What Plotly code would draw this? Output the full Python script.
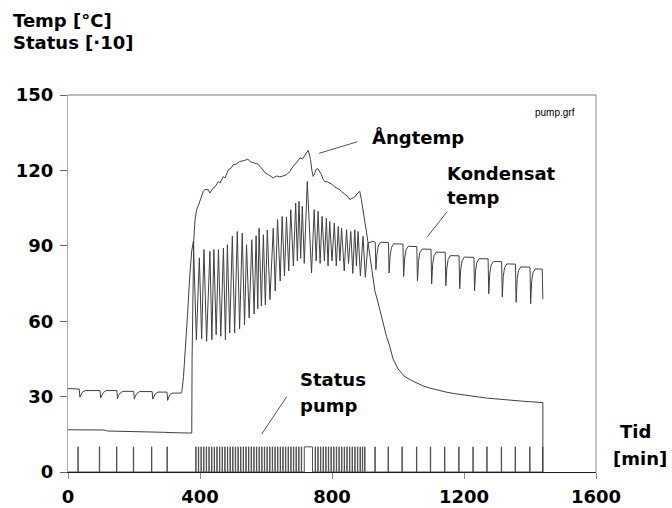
import plotly.graph_objects as go

# ---------------- data ----------------
x_ticks = [0, 400, 800, 1200, 1600]
y_ticks = [0, 30, 60, 90, 120, 150]

# Ångtemp (steam temperature, °C) vs time (min)
ang_t = [0, 60, 110, 120, 200, 250, 290, 330, 375, 376, 378, 381, 385, 390, 395, 400, 405, 410,
         415, 425, 430, 440, 446, 456, 461, 470, 476, 486, 495, 501, 510, 520, 536, 545, 552,
         567, 575, 582, 590, 598, 607, 615, 622, 632, 642, 652, 662, 672, 682, 692, 703, 710,
         718, 728, 732, 735, 739, 743, 748, 752, 758, 763, 768, 773, 778, 786, 793, 800, 807,
         814, 822, 829, 834, 842, 849, 854, 860, 869, 878, 884, 889, 894, 899, 904, 909, 914,
         919, 924, 930, 940, 955, 965, 975, 985, 1000, 1020, 1040, 1056, 1075, 1096, 1120,
         1146, 1170, 1197, 1220, 1247, 1270, 1298, 1320, 1348, 1375, 1398, 1420, 1439, 1439]
ang_v = [16.8, 16.8, 16.7, 16.3, 16.2, 16.1, 15.8, 15.6, 15.5, 45, 75, 92, 100.4, 104.5, 106,
         108, 110.3, 111.7, 112.4, 112.3, 111, 113, 113.5, 115.6, 115, 117.5, 117, 120.3, 121,
         122.3, 122.5, 123.5, 124, 124.5, 123.5, 123, 122.5, 121.6, 120.5, 119, 118.3, 117.5,
         117, 117.8, 117.4, 117.8, 118.3, 119.5, 121.6, 123, 125, 124.5, 126, 128, 126, 124.3,
         120, 117.6, 119, 120.5, 120.6, 119.5, 118.3, 116.5, 115.6, 115.4, 115, 114.5, 113.5,
         113, 112.5, 111.5, 111, 110, 109.5, 108.4, 108.8, 109.4, 111, 111.7, 108.4, 103, 100,
         96, 91, 86.5, 81.5, 77.8, 72, 67.2, 59.3, 54, 50, 45, 41, 38, 36.5, 35.4, 34.3, 33.4,
         32.5, 31.8, 31.2, 30.8, 30.3, 29.8, 29.4, 29, 28.8, 28.5, 28.2, 28, 27.8, 27.6, 0]

# Kondensat temp (°C) vs time (min)
kond_t = [0, 34, 36, 39, 44, 52, 97, 99, 102, 107, 115, 148, 150, 153, 158, 166, 199, 201, 204,
          209, 217, 255, 257, 260, 265, 273, 300, 302, 305, 310, 318, 342, 345, 350, 355, 362,
          369, 375, 380,
          389, 398, 405, 412, 420, 430, 436, 442, 449, 456, 463, 471, 477, 483, 490, 498, 505,
          513, 520, 528, 535, 541, 549, 557, 564, 570, 575, 579, 586, 592, 598, 604, 612, 622,
          628, 635, 643, 649, 656, 662, 669, 675, 683, 690, 695, 700, 705, 710, 716, 725, 738,
          746, 752, 758, 764, 770, 777, 783, 788, 793, 800, 807, 813, 819, 824, 829, 837, 844,
          850, 857, 863, 869, 874, 879, 886, 894, 901, 909, 924,
          931, 933, 936, 940, 947, 971, 973, 976, 980, 987, 1015, 1017, 1020, 1024, 1031,
          1057, 1059, 1062, 1066, 1073, 1100, 1102, 1105, 1109, 1116, 1143, 1145, 1148, 1152,
          1159, 1185, 1187, 1190, 1194, 1201, 1230, 1232, 1235, 1239, 1246, 1273, 1275, 1278,
          1282, 1289, 1314, 1316, 1319, 1323, 1330, 1356, 1358, 1361, 1365, 1372, 1400, 1402,
          1405, 1409, 1416, 1437, 1439]
kond_v = [33.2, 33.0, 29.8, 30.8, 31.8, 32.4, 32.4, 29.5, 30.6, 31.6, 32.4, 32.4, 29.2, 30.4,
          31.4, 32.1, 32.1, 29.0, 30.2, 31.3, 32.0, 32.0, 29.0, 30.1, 31.2, 31.8, 31.8, 28.5,
          29.8, 30.9, 31.4, 31.4, 32.0, 38, 47, 62, 78, 88, 91.8,
          52.6, 85.2, 53, 88.5, 52, 87.8, 52.6, 88.5, 54.6, 88.5, 54, 89.1, 52.6, 90.4, 55.3,
          93.8, 55.3, 95.7, 57, 95, 58.6, 90.4, 61.3, 92.4, 62.9, 94, 65, 97, 66, 94.4, 66.5,
          96.3, 68.6, 97, 72, 100.4, 76, 101.7, 78, 101.5, 80, 104.4, 82, 107, 84, 107.7, 85,
          105.7, 83, 115.6, 79.2,
          104.4, 84, 103.7, 83, 101.7, 84, 101, 82, 99.7, 84, 99.1, 82, 97.7, 84, 97.1, 80,
          96.4, 83, 95.7, 79, 96.4, 82, 95.7, 78, 93.8, 77.5, 91.1, 91.8,
          91.4, 80.5, 86.4, 89.9, 91.4, 91.3, 79.2, 85.8, 89.3, 90.8, 90.7, 77.8, 84.8, 88.3,
          89.8, 89.7, 76.1, 83.7, 87.2, 88.7, 88.6, 74.9, 82.5, 86.0, 87.5, 87.4, 74.1, 81.1,
          84.6, 86.1, 86.0, 72.9, 80.5, 84.0, 85.5, 85.4, 72.1, 79.9, 83.4, 84.9, 84.8, 70.9,
          78.8, 82.3, 83.8, 83.7, 69.6, 77.8, 81.3, 82.8, 82.7, 67.5, 76.6, 80.1, 81.6, 81.5,
          67.0, 75.8, 79.3, 80.8, 80.7, 68.8]

# Pump status (1 = on), plotted ·10 ; switch-on / switch-off times (min)
pump_on = [30, 95, 147, 198, 253, 300,
           387, 395, 403, 411, 419, 427, 435, 443, 451, 459, 467, 475, 483, 491, 499, 507,
           515, 523, 531, 539, 547, 555, 563, 571, 579, 587, 595, 603, 611, 619, 627, 635,
           643, 651, 659, 667, 675, 683, 691, 699, 707,
           716,
           749, 757, 765, 773, 781, 789, 797, 805, 813, 821, 829, 837, 845, 853, 861, 869,
           877, 885, 892, 899,
           930, 970, 1012, 1056, 1098, 1141, 1184, 1227, 1269, 1313, 1355, 1399, 1438]
pump_off = [31, 96, 148, 199, 254, 301,
            388, 396, 404, 412, 420, 428, 436, 444, 452, 460, 468, 476, 484, 492, 500, 508,
            516, 524, 532, 540, 548, 556, 564, 572, 580, 588, 596, 604, 612, 620, 628, 636,
            644, 652, 660, 668, 676, 684, 692, 700, 708,
            741,
            750, 758, 766, 774, 782, 790, 798, 806, 814, 822, 830, 838, 846, 854, 862, 870,
            878, 886, 893, 900,
            931, 971, 1013, 1057, 1099, 1142, 1185, 1228, 1270, 1314, 1356, 1400, 1439]
status_scale = 10
run_end = 1440

# ---------------- figure ----------------
L, R, T, B = 68, 596, 95, 472          # plot area in pixels
W, H = R - L, B - T
FONT = "DejaVu Sans, Liberation Sans, sans-serif"

# step trace of pump status
st_t, st_v = [0], [0]
for a, b in zip(pump_on, pump_off):
    st_t += [a, a, b, b]
    st_v += [0, status_scale, status_scale, 0]
st_t.append(run_end)
st_v.append(0)

fig = go.Figure()
fig.add_trace(go.Scatter(x=st_t, y=st_v, mode="lines",
                         line=dict(color="#505050", width=1), hoverinfo="skip"))
fig.add_trace(go.Scatter(x=kond_t, y=kond_v, mode="lines",
                         line=dict(color="#404040", width=1), hoverinfo="skip"))
fig.add_trace(go.Scatter(x=ang_t, y=ang_v, mode="lines",
                         line=dict(color="#404040", width=1), hoverinfo="skip"))

# leader lines for the labels (data coords)
leaders = [((761, 126.8), (877, 131.4)),
           ((1089, 93.6), (1149, 103.6)),
           ((587, 15.1), (663, 30.0))]
shapes = []
for (x0, y0), (x1, y1) in leaders:
    shapes.append(dict(type="line", xref="x", yref="y", x0=x0, y0=y0, x1=x1, y1=y1,
                       line=dict(color="#555555", width=1)))
# frame top / right
shapes.append(dict(type="line", xref="paper", yref="paper", x0=0, y0=1, x1=1, y1=1,
                   line=dict(color="#7a7a7a", width=1)))
shapes.append(dict(type="line", xref="paper", yref="paper", x0=1, y0=0, x1=1, y1=1,
                   line=dict(color="#8a8a8a", width=1)))

# text labels: (text, left px, baseline px, size, bold)
labels = [("Temp [°C]", 13, 27, 18, True),
          ("Status [·10]", 13, 48.5, 18, True),
          ("Ångtemp", 372, 143, 18, True),
          ("Kondensat", 447, 180, 18, True),
          ("temp", 447, 204, 18, True),
          ("Status", 300, 386, 18, True),
          ("pump", 300, 412, 18, True),
          ("Tid", 620, 438, 18, True),
          ("[min]", 613, 465, 18, True),
          ("pump.grf", 535, 116, 10, False)]
annotations = []
for text, xl, base, size, bold in labels:
    cy = base - 0.346 * size
    fam = FONT if bold else "Liberation Sans, Arial, sans-serif"
    annotations.append(dict(text=text, xref="paper", yref="paper",
                            x=(xl - L) / W, y=(B - cy) / H,
                            xanchor="left", yanchor="middle", showarrow=False,
                            borderpad=0, borderwidth=0,
                            font=dict(family=fam, size=size, color="#000000",
                                      weight=700 if bold else 400)))

fig.update_layout(
    width=672, height=508,
    margin=dict(l=L, r=672 - R, t=T, b=508 - B, pad=0, autoexpand=False),
    paper_bgcolor="white", plot_bgcolor="white",
    showlegend=False,
    shapes=shapes, annotations=annotations,
    xaxis=dict(range=[0, 1600], tickvals=x_ticks, ticktext=[str(v) for v in x_ticks],
               automargin=False,
               showgrid=False, zeroline=False, showline=True, linecolor="#222222",
               linewidth=1, ticks="outside", ticklen=6, tickcolor="#888888",
               ticklabelstandoff=2,
               tickfont=dict(family=FONT, size=18, color="#000000", weight=700)),
    yaxis=dict(range=[0, 150], tickvals=y_ticks, ticktext=[str(v) for v in y_ticks],
               automargin=False,
               showgrid=False, zeroline=False, showline=True, linecolor="#aaaaaa",
               linewidth=1, ticks="outside", ticklen=7, tickcolor="#666666",
               ticklabelstandoff=3,
               tickfont=dict(family=FONT, size=18, color="#000000", weight=700)),
)

fig.write_html("out.html")
